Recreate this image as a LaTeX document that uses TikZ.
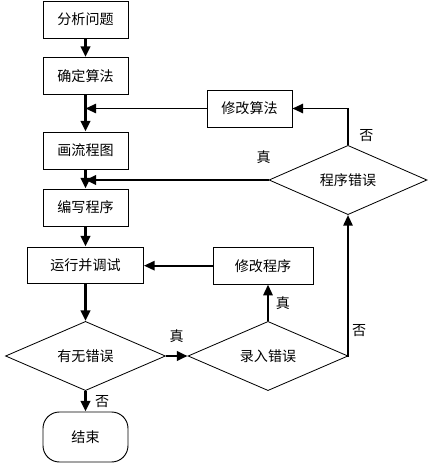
\documentclass[tikz,border=0pt]{standalone}
\usepackage{fontspec}
\newfontfamily\cjk{Noto Sans CJK SC}
\usepackage{tikz}
\usetikzlibrary{arrows.meta,positioning,shapes.geometric,calc}
\tikzset{
  thk/.style={line width=2.4pt},
  med/.style={line width=1.6pt},
  lbl/.style={font=\cjk\fontsize{12}{14}\selectfont, inner sep=1pt}
}
\begin{document}
\begin{tikzpicture}[>={Triangle[length=3.2mm,width=2.8mm]}, font=\cjk\fontsize{12}{14}\selectfont,
  box/.style={draw, line width=0.8pt, minimum width=2.55cm, minimum height=1.11cm, inner sep=2pt},
  dia/.style={draw, diamond, line width=0.7pt, minimum width=4.8cm, minimum height=1.62cm, inner sep=0pt},
  term/.style={draw, line width=0.8pt, rounded corners=14pt, minimum width=2.55cm, minimum height=1.5cm}]
\useasboundingbox (0,0) rectangle (12.99,-13.92);
\node[box] (ana) at (2.565,-0.585) {分析问题};
\node[box] (alg) at (2.565,-2.28) {确定算法};
\node[box] (flow) at (2.565,-4.515) {画流程图};
\node[box] (code) at (2.565,-6.225) {编写程序};
\node[box, minimum width=3.48cm, minimum height=1.08cm] (run) at (2.565,-7.95) {运行并调试};
\node[box, minimum width=3cm] (fixp) at (7.89,-7.97) {修改程序};
\node[box] (fixa) at (7.485,-3.255) {修改算法};
\node[dia] (err) at (2.565,-10.68) {有无错误};
\node[dia] (inp) at (8.04,-10.68) {录入错误};
\node[dia, minimum width=4.74cm] (prg) at (10.44,-5.4) {程序错误};
\node[term] (stop) at (2.565,-13.11) {结束};
\draw[thk,->] (ana) -- (alg); \draw[thk,->] (alg) -- (flow);
\draw[thk,->] (flow) -- (code); \draw[thk,->] (code) -- (run);
\draw[thk,->] (run) -- (err);
\draw[med,->] (fixa.west) -- (alg.south |- fixa.west);
\draw[thk,->] (prg.west) -- (flow.south |- prg.west);
\node[lbl] at ($(prg.west)+(-0.15,0.68)$) {真};
\draw[thk,->] (err.east) -- (inp.west);
\node[lbl] at ($(err.east)!0.5!(inp.west)+(0,0.6)$) {真};
\draw[thk,->] (err.south) -- (stop.north);
\node[lbl] at ($(err.south)!0.5!(stop.north)+(0.5,0)$) {否};
\draw[med,->] (inp.north) -- (inp.north |- fixp.south);
\node[lbl] at ($(inp.north)!0.5!(inp.north |- fixp.south)+(0.45,0)$) {真};
\draw[med,->] (fixp.west) -- (run.east |- fixp.west);
\draw[med,->] (inp.east) -| (prg.south);
\node[lbl] at ($(inp.east)+(0.32,0.75)$) {否};
\draw[med,->] (prg.north) |- (fixa.east);
\node[lbl] at ($(prg.north)+(0.55,0.27)$) {否};
\end{tikzpicture}
\end{document}
